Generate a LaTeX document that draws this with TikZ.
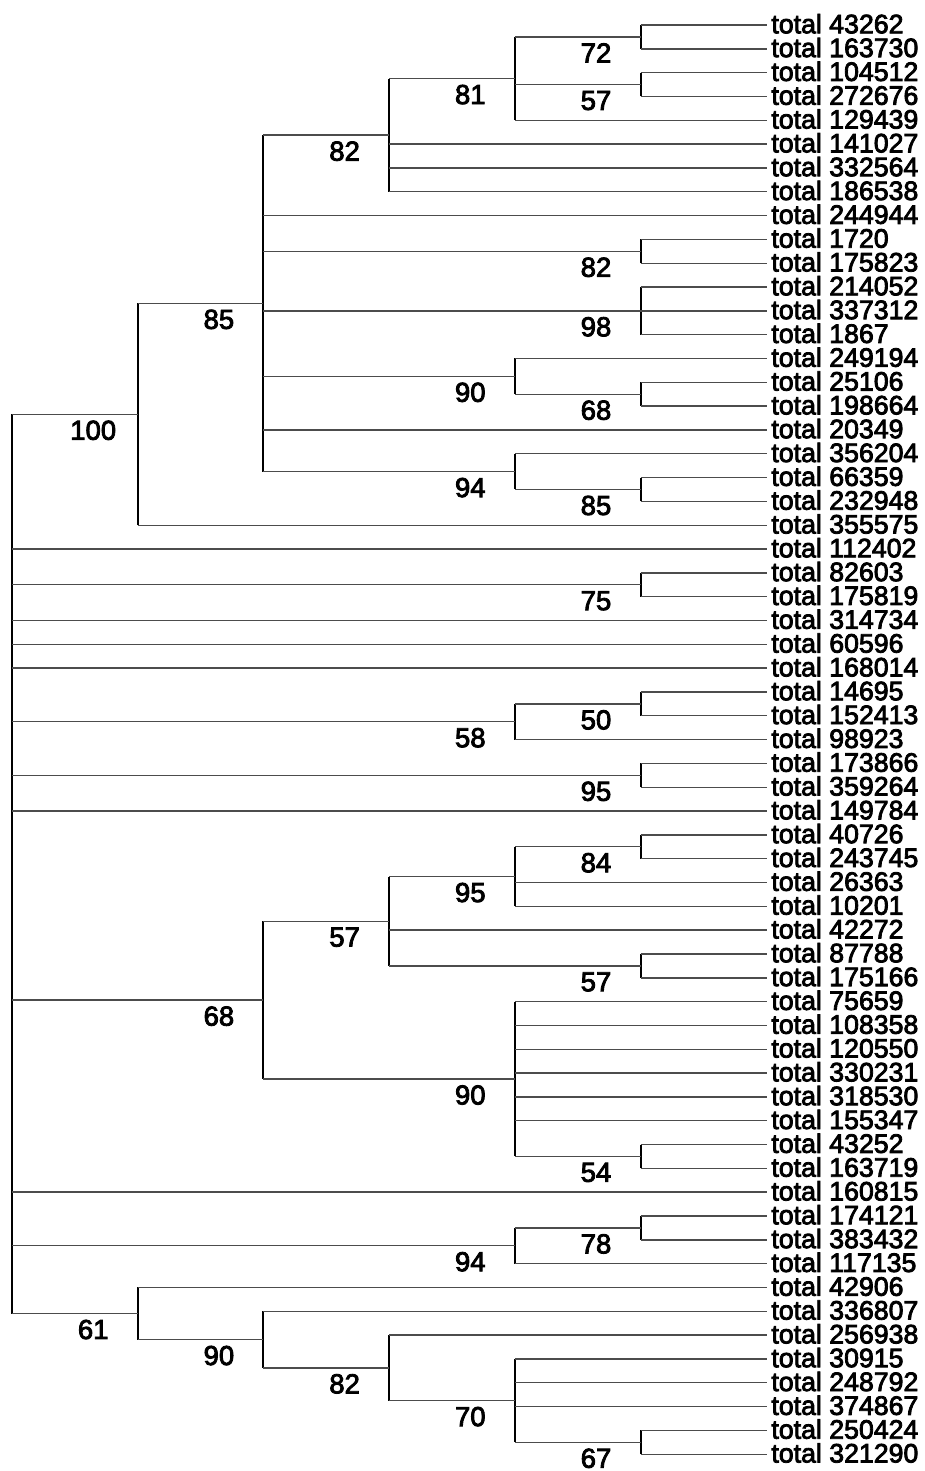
\documentclass[tikz,border=0pt]{standalone}
\usepackage{fontspec}
\setmainfont{Liberation Sans}[FakeBold=3]
\usetikzlibrary{calc}
\tikzset{
  hline/.style={draw=black!70,line width=1.4pt},
  vline/.style={draw=black,line width=2pt},
  leaf/.style={anchor=base west,inner xsep=4.2pt,inner ysep=0pt,font=\fontsize{26.7}{30}\selectfont},
  lab/.style={anchor=center,inner sep=0pt,font=\fontsize{27.5}{30}\selectfont}
}
% name, x, first child, last child, label, children
\newcommand\inode[6]{%
  \path let \p1=($(#3)!0.5!(#4)$) in coordinate (#1) at (#2pt,\y1);
  \draw[vline] (#1 |- #3) -- (#1 |- #4);
  \foreach \ch in {#6} {\draw[hline] (#1 |- \ch) -- (\ch);}
  \node[lab] at ([xshift=-44.5pt,yshift=-16pt]#1) {#5};
}
\begin{document}
\begin{tikzpicture}[x=1pt,y=1pt]
\useasboundingbox (0,0) rectangle (924,-1471);
\def\xa{12}\def\xb{137.7}\def\xc{263.4}\def\xd{389.1}\def\xe{514.8}\def\xf{640.5}
\foreach \t [count=\i] in {43262,163730,104512,272676,129439,141027,332564,186538,244944,1720,175823,214052,337312,1867,249194,25106,198664,20349,356204,66359,232948,355575,112402,82603,175819,314734,60596,168014,14695,152413,98923,173866,359264,149784,40726,243745,26363,10201,42272,87788,175166,75659,108358,120550,330231,318530,155347,43252,163719,160815,174121,383432,117135,42906,336807,256938,30915,248792,374867,250424,321290} {
  \pgfmathsetmacro\yy{-(25+(\i-1)*23.82)}
  \coordinate (E\i) at (767,\yy);
  \node[leaf] (L\i) at ([yshift=-8.3pt]E\i) {total \t};
}
\inode{C72}{\xf}{E1}{E2}{72}{E1,E2}
\inode{C57a}{\xf}{E3}{E4}{57}{E3,E4}
\inode{C81}{\xe}{C72}{E5}{81}{C72,C57a,E5}
\inode{C82a}{\xd}{C81}{E8}{82}{C81,E6,E7,E8}
\inode{C82b}{\xf}{E10}{E11}{82}{E10,E11}
\inode{C98}{\xf}{E12}{E14}{98}{E12,E13,E14}
\inode{C68a}{\xf}{E16}{E17}{68}{E16,E17}
\inode{C90a}{\xe}{E15}{C68a}{90}{E15,C68a}
\inode{C85b}{\xf}{E20}{E21}{85}{E20,E21}
\inode{C94a}{\xe}{E19}{C85b}{94}{E19,C85b}
\inode{C85}{\xc}{C82a}{C94a}{85}{C82a,E9,C82b,C98,C90a,E18,C94a}
\inode{C100}{\xb}{C85}{E22}{100}{C85,E22}
\inode{C75}{\xf}{E24}{E25}{75}{E24,E25}
\inode{C50}{\xf}{E29}{E30}{50}{E29,E30}
\inode{C58}{\xe}{C50}{E31}{58}{C50,E31}
\inode{C95a}{\xf}{E32}{E33}{95}{E32,E33}
\inode{C84}{\xf}{E35}{E36}{84}{E35,E36}
\inode{C95b}{\xe}{C84}{E38}{95}{C84,E37,E38}
\inode{C57c}{\xf}{E40}{E41}{57}{E40,E41}
\inode{C57b}{\xd}{C95b}{C57c}{57}{C95b,E39,C57c}
\inode{C54}{\xf}{E48}{E49}{54}{E48,E49}
\inode{C90b}{\xe}{E42}{C54}{90}{E42,E43,E44,E45,E46,E47,C54}
\inode{C68b}{\xc}{C57b}{C90b}{68}{C57b,C90b}
\inode{C78}{\xf}{E51}{E52}{78}{E51,E52}
\inode{C94b}{\xe}{C78}{E53}{94}{C78,E53}
\inode{C67}{\xf}{E60}{E61}{67}{E60,E61}
\inode{C70}{\xe}{E57}{C67}{70}{E57,E58,E59,C67}
\inode{C82c}{\xd}{E56}{C70}{82}{E56,C70}
\inode{C90c}{\xc}{E55}{C82c}{90}{E55,C82c}
\inode{C61}{\xb}{E54}{C90c}{61}{E54,C90c}
\inode{Root}{\xa}{C100}{C61}{}{C100,E23,C75,E26,E27,E28,C58,C95a,E34,C68b,E50,C94b,C61}
\end{tikzpicture}
\end{document}
